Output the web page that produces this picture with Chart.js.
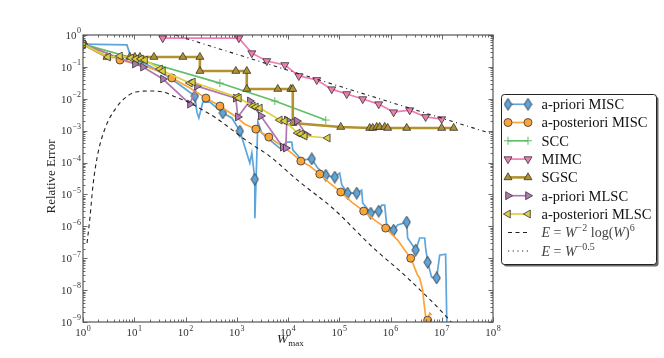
<!DOCTYPE html>
<html>
<head>
<meta charset="utf-8">
<title>Relative error vs W_max</title>
<script src="https://cdn.jsdelivr.net/npm/chart.js@4.4.1/dist/chart.umd.min.js"></script>
<style>
    html, body { margin: 0; padding: 0; background: #fff; }
    #wrap { width: 664px; height: 358px; }
</style>
</head>
<body>
<div id="wrap"><canvas id="errChart" width="664" height="358"></canvas></div>
<script>
// Values (work W_max vs relative error)

// a-priori MISC (markers only on some vertices)
const miscPrioriW = [1, 7.2, 8.6, 20, 40, 78, 152, 167, 182, 218, 300, 536, 802, 1150, 1800, 1970, 2250, 2260, 2580, 3080,
    4420, 6920, 9480, 11850, 12400, 18600, 29100, 38100, 54600, 81700, 1.02e5, 1.12e5, 1.46e5, 2.19e5, 2.74e5, 2.87e5,
    4.12e5, 5.89e5, 6.73e5, 7.71e5, 8.43e5, 1.15e6, 1.38e6, 2.07e6, 2.16e6, 3.1e6, 3.71e6, 4.64e6, 4.85e6, 5.31e6,
    6.35e6, 7.95e6, 9.1e6, 1.19e7, 1.25e7, 1.3e7];
const miscPrioriE = [0.52, 0.49, 0.2, 0.106, 0.056, 0.027, 0.0122, 0.0038, 0.0025, 0.0079, 0.0079, 0.0036, 0.0025, 9.7e-4,
    9.6e-5, 2.0e-4, 3.0e-5, 1.8e-6, 1.9e-3, 8.4e-4, 5.1e-4, 2.85e-4, 4.4e-4, 4.4e-4, 2.5e-4, 1.2e-4, 1.3e-4, 6.7e-5,
    4.0e-5, 3.5e-5, 4.7e-5, 2.0e-5, 1.1e-5, 1.1e-5, 1.37e-5, 5.4e-6, 2.6e-6, 3.0e-6, 4.6e-6, 4.6e-6, 1.1e-6, 7.6e-7,
    1.1e-6, 1.36e-6, 4.3e-7, 1.8e-7, 4.3e-7, 4.3e-7, 2.1e-7, 7.5e-8, 2.55e-8, 2.4e-8, 1.25e-7, 1.34e-7, 1.3e-9, 5.5e-10];
const miscPrioriMarks = [0, 6, 11, 13, 16, 26, 28, 29, 32, 33, 36, 37, 41, 43, 45, 49, 51];

// a-posteriori MISC
const miscPostW = [1, 2.14, 5.26, 16.2, 36.3, 54.3, 122, 250, 469, 918, 1440, 2355, 4230, 8670, 11850, 17800, 26600,
    41700, 65300, 1.07e5, 1.75e5, 3.0e5, 4.92e5, 8.05e5, 1.38e6, 1.89e6, 2.48e6, 3.39e6, 3.71e6, 4.25e6, 4.44e6,
    4.85e6, 5.31e6, 5.81e6, 6.35e6];
const miscPostE = [0.52, 0.338, 0.164, 0.106, 0.064, 0.045, 0.0217, 0.0105, 0.0059, 0.0029, 0.0016, 0.00112, 6.3e-4,
    2.85e-4, 1.98e-4, 1.11e-4, 7.8e-5, 4.35e-5, 2.27e-5, 1.19e-5, 5.75e-6, 3.0e-6, 1.57e-6, 8.8e-7, 3.7e-7, 1.8e-7,
    1.0e-7, 2.9e-8, 2.4e-8, 1.0e-8, 4.8e-9, 1.5e-9, 1.14e-9, 1.9e-9, 1.64e-9];
const miscPostMarks = [0, 2, 5, 7, 8, 11, 12, 15, 17, 19, 21, 23, 26, 32];

// SCC
const sccW = [1, 12.9, 469, 5530, 54600];
const sccE = [0.52, 0.164, 0.031, 0.0085, 0.00215];

// MIMC
const mimcW = [36, 1100, 1970, 3860, 8670, 16250, 36400, 71400, 1.4e5, 2.87e5, 5.89e5, 1.15e6, 2.37e6, 4.85e6, 9.95e6];
const mimcE = [0.80, 0.80, 0.27, 0.153, 0.115, 0.052, 0.039, 0.020, 0.0141, 0.0098, 0.0068, 0.0038, 0.0044, 0.0027, 0.0023];

// SGSC
const sgscW = [1, 2.94, 8.2, 10.3, 12.9, 24.2, 89, 191, 191, 960, 1570, 1570, 6320, 11350, 12400, 12400, 1.07e5,
    3.93e5, 4.5e5, 5.38e5, 6.15e5, 7.71e5, 8.81e5, 2.07e6, 9.95e6, 1.71e7];
const sgscE = [0.52, 0.204, 0.204, 0.204, 0.204, 0.204, 0.204, 0.204, 0.074, 0.074, 0.074, 0.0202, 0.0202, 0.0202,
    0.0202, 0.00173, 0.0013, 0.00121, 0.00121, 0.0013, 0.0013, 0.0013, 0.00121, 0.00121, 0.00121, 0.00121];

// a-priori MLSC
const mlscPrioriW = [1, 10.3, 14.8, 36.3, 122, 167, 960, 1050, 1800, 2950, 7920, 9060, 9480, 14900, 23200];
const mlscPrioriE = [0.52, 0.123, 0.099, 0.0416, 0.0068, 0.025, 0.0105, 0.0027, 0.0085, 0.0029, 3.06e-4, 2.85e-4,
    0.00215, 0.0020, 7.3e-4];

// a-posteriori MLSC
const mlscPostW = [1, 3.07, 5.26, 8.63, 10.8, 13.5, 16.2, 31.7, 36.3, 122, 139, 1005, 1100, 2060, 2355, 2820, 6920,
    8670, 15500, 17800, 21200, 59700];
const mlscPostE = [0.52, 0.204, 0.219, 0.19, 0.177, 0.177, 0.164, 0.0857, 0.0741, 0.0312, 0.0335, 0.0113, 0.0105,
    0.0059, 0.0055, 0.0051, 0.00215, 0.0020, 8.4e-4, 7.8e-4, 6.8e-4, 5.9e-4];

// reference rates
const rateLogW = [1.2, 1.37, 1.57, 1.96, 2.81, 4.4, 6.9, 10.8, 20.2, 36.3, 65, 122, 218, 392, 733, 1315, 2355, 3870,
    17000, 74700, 4.5e5, 2.07e6, 1.26e7, 1.79e7];
const rateLogE = [3.0e-7, 1.95e-6, 2.0e-5, 1.98e-4, 1.4e-3, 5.1e-3, 0.0113, 0.0163, 0.0175, 0.0163, 0.0113, 0.0074,
    0.0044, 0.0025, 0.0012, 5.9e-4, 3.06e-4, 1.85e-4, 2.44e-5, 3.7e-6, 2.2e-7, 2.55e-8, 1.42e-9, 7.4e-10];
const rateHalfW = [62, 1e8];
const rateHalfE = [1.0, 7.8e-4];

// axis decades
const xTickExps = [0, 1, 2, 3, 4, 5, 6, 7, 8];
const yTickExps = [0, -1, -2, -3, -4, -5, -6, -7, -8, -9];

const SERIF = '"Liberation Serif", "DejaVu Serif", serif';
const EDGE = '#333';

function pts(ws, es) {
    return ws.map((w, i) => ({ x: w, y: es[i] }));
}

// thin diamond marker like matplotlib 'd'
function diamondMarker(color) {
    const c = document.createElement('canvas');
    c.width = 9; c.height = 13;
    const g = c.getContext('2d');
    g.beginPath();
    g.moveTo(4.5, 0.6); g.lineTo(8.2, 6.5); g.lineTo(4.5, 12.4); g.lineTo(0.8, 6.5);
    g.closePath();
    g.fillStyle = color; g.fill();
    g.lineWidth = 0.9; g.strokeStyle = EDGE; g.stroke();
    return c;
}

function markEvery(list, r) {
    return ctx => list.includes(ctx.dataIndex) ? r : 0;
}

const datasets = [
    {
        label: 'a-priori MISC', data: pts(miscPrioriW, miscPrioriE),
        borderColor: '#5DA5DA', borderWidth: 1.7,
        pointStyle: diamondMarker('#5DA5DA'), pointRadius: markEvery(miscPrioriMarks, 5), markerR: 5,
        pointBackgroundColor: '#5DA5DA', pointBorderColor: EDGE
    },
    {
        label: 'a-posteriori MISC', data: pts(miscPostW, miscPostE),
        borderColor: '#FAA43A', borderWidth: 1.7,
        pointStyle: 'circle', pointRadius: markEvery(miscPostMarks, 4), markerR: 4,
        pointBackgroundColor: '#FAA43A', pointBorderColor: EDGE, pointBorderWidth: 0.8
    },
    {
        label: 'SCC', data: pts(sccW, sccE),
        borderColor: '#60BD68', borderWidth: 1.6,
        pointStyle: 'cross', pointRadius: 4, markerR: 4,
        pointBackgroundColor: '#60BD68', pointBorderColor: '#60BD68', pointBorderWidth: 1
    },
    {
        label: 'MIMC', data: pts(mimcW, mimcE),
        borderColor: '#F17CB0', borderWidth: 1.7,
        pointStyle: 'triangle', pointRotation: 180, pointRadius: 4.6, markerR: 4.6,
        pointBackgroundColor: '#F17CB0', pointBorderColor: EDGE, pointBorderWidth: 0.8
    },
    {
        label: 'SGSC', data: pts(sgscW, sgscE),
        borderColor: '#B2912F', borderWidth: 2.6,
        pointStyle: 'triangle', pointRadius: 4.6, markerR: 4.6,
        pointBackgroundColor: '#B2912F', pointBorderColor: EDGE, pointBorderWidth: 0.8
    },
    {
        label: 'a-priori MLSC', data: pts(mlscPrioriW, mlscPrioriE),
        borderColor: '#B276B2', borderWidth: 1.7,
        pointStyle: 'triangle', pointRotation: 90, pointRadius: 4.6, markerR: 4.6,
        pointBackgroundColor: '#B276B2', pointBorderColor: EDGE, pointBorderWidth: 0.8
    },
    {
        label: 'a-posteriori MLSC', data: pts(mlscPostW, mlscPostE),
        borderColor: '#DECF3F', borderWidth: 1.7,
        pointStyle: 'triangle', pointRotation: -90, pointRadius: 4.6, markerR: 4.6,
        pointBackgroundColor: '#DECF3F', pointBorderColor: EDGE, pointBorderWidth: 0.8
    },
    {
        label: 'rate2', data: pts(rateLogW, rateLogE),
        borderColor: '#222', borderWidth: 1.1, borderDash: [4, 3.5],
        cubicInterpolationMode: 'monotone', pointRadius: 0
    },
    {
        label: 'rate05', data: pts(rateHalfW, rateHalfE),
        borderColor: '#222', borderWidth: 1.1, borderDash: [3.5, 3.5, 1, 3.5],
        pointRadius: 0
    }
];
// later series sit on top, as in the original
datasets.forEach((d, i) => { d.order = 20 - i; d.fill = false; });

function drawPow10(ctx, exp, x, y, align) {
    const base = '10';
    const sup = exp < 0 ? '\u2212' + (-exp) : String(exp);
    ctx.font = '11px ' + SERIF;
    const wb = ctx.measureText(base).width;
    ctx.font = '8px ' + SERIF;
    const ws = ctx.measureText(sup).width;
    const total = wb + ws + 0.6;
    const x0 = align === 'right' ? x - total : x - total / 2;
    ctx.textAlign = 'left';
    ctx.textBaseline = 'alphabetic';
    ctx.font = '11px ' + SERIF;
    ctx.fillText(base, x0, y);
    ctx.font = '8px ' + SERIF;
    ctx.fillText(sup, x0 + wb + 0.6, y - 5.5);
}

// frame, inward ticks on all four sides, tick labels and axis titles
const axesPlugin = {
    id: 'mplAxes',
    afterDatasetsDraw(chart) {
        const { ctx, chartArea: a, scales } = chart;
        const xs = scales.x, ys = scales.y;
        ctx.save();
        ctx.strokeStyle = '#444';
        ctx.lineWidth = 0.8;
        ctx.beginPath();
        const tick = (px, len, vertical) => {
            if (vertical) {
                ctx.moveTo(px, a.bottom); ctx.lineTo(px, a.bottom - len);
                ctx.moveTo(px, a.top); ctx.lineTo(px, a.top + len);
            } else {
                ctx.moveTo(a.left, px); ctx.lineTo(a.left + len, px);
                ctx.moveTo(a.right, px); ctx.lineTo(a.right - len, px);
            }
        };
        xTickExps.forEach(e => {
            tick(Math.round(xs.getPixelForValue(Math.pow(10, e))) + 0.5, 4.5, true);
            if (e < 8) for (let k = 2; k <= 9; k++) tick(Math.round(xs.getPixelForValue(k * Math.pow(10, e))) + 0.5, 2.5, true);
        });
        yTickExps.forEach(e => {
            tick(Math.round(ys.getPixelForValue(Math.pow(10, e))) + 0.5, 4.5, false);
            if (e > -9) for (let k = 2; k <= 9; k++) tick(Math.round(ys.getPixelForValue(k * Math.pow(10, e - 1))) + 0.5, 2.5, false);
        });
        ctx.stroke();

        ctx.lineWidth = 1.2;
        ctx.strokeStyle = '#555';
        ctx.strokeRect(a.left, a.top, a.right - a.left, a.bottom - a.top);

        ctx.fillStyle = '#333';
        xTickExps.forEach(e => drawPow10(ctx, e, xs.getPixelForValue(Math.pow(10, e)), a.bottom + 14, 'center'));
        yTickExps.forEach(e => drawPow10(ctx, e, a.left - 2, ys.getPixelForValue(Math.pow(10, e)) + 3.8, 'right'));

        // y title
        ctx.save();
        ctx.translate(55, (a.top + a.bottom) / 2 - 2);
        ctx.rotate(-Math.PI / 2);
        ctx.font = '13px ' + SERIF;
        ctx.textAlign = 'center';
        ctx.fillStyle = '#222';
        ctx.fillText('Relative Error', 0, 0);
        ctx.restore();

        // x title: W_max
        ctx.fillStyle = '#222';
        ctx.textAlign = 'left';
        ctx.font = 'italic 13px ' + SERIF;
        const wx = (a.left + a.right) / 2 - 11;
        ctx.fillText('W', wx, 343);
        const ww = ctx.measureText('W').width;
        ctx.font = '9px ' + SERIF;
        ctx.fillText('max', wx + ww + 0.5, 346);
        ctx.restore();
    }
};

function drawRich(ctx, parts, x, y) {
    parts.forEach(p => {
        ctx.font = p.f;
        ctx.fillText(p.t, x, y + (p.dy || 0));
        x += ctx.measureText(p.t).width;
    });
}

// matplotlib-style legend: two markers on a short line, fancy box with shadow
const legendPlugin = {
    id: 'mplLegend',
    afterDraw(chart) {
        const ctx = chart.ctx;
        const bx = 501.5, by = 94.5, bw = 155, bh = 170, r = 3;
        const rr = (x, y) => {
            ctx.beginPath();
            ctx.moveTo(x + r, y);
            ctx.arcTo(x + bw, y, x + bw, y + bh, r);
            ctx.arcTo(x + bw, y + bh, x, y + bh, r);
            ctx.arcTo(x, y + bh, x, y, r);
            ctx.arcTo(x, y, x + bw, y, r);
            ctx.closePath();
        };
        ctx.save();
        ctx.fillStyle = '#6a6a6a';
        rr(bx + 2, by + 2); ctx.fill();
        ctx.fillStyle = '#fff';
        rr(bx, by); ctx.fill();
        ctx.strokeStyle = '#222'; ctx.lineWidth = 1;
        ctx.stroke();

        const rows = [104.3, 122.5, 140.8, 159.1, 177.4, 195.7, 214, 232.5, 251];
        const x0 = 508, x1 = 528, tx = 541.5;
        const ds = chart.config.data.datasets;
        ctx.textBaseline = 'alphabetic';
        ctx.textAlign = 'left';
        for (let i = 0; i < 7; i++) {
            const d = ds[i], y = rows[i];
            ctx.beginPath();
            ctx.strokeStyle = d.borderColor;
            ctx.lineWidth = d.borderWidth;
            ctx.moveTo(x0, y); ctx.lineTo(x1, y); ctx.stroke();
            [x0, x1].forEach(mx => {
                ctx.fillStyle = d.pointBackgroundColor;
                ctx.strokeStyle = d.pointBorderColor;
                ctx.lineWidth = d.pointBorderWidth || 0.8;
                Chart.helpers.drawPoint(ctx, {
                    pointStyle: d.pointStyle, radius: d.markerR,
                    rotation: d.pointRotation || 0, borderWidth: d.pointBorderWidth || 0.8
                }, mx, y);
            });
            ctx.fillStyle = '#111';
            ctx.font = '14.5px ' + SERIF;
            ctx.fillText(d.label, tx, y + 4.8);
        }
        // reference-rate entries
        [[7, [4, 3.5]], [8, [1.2, 3.5]]].forEach(([i, dash]) => {
            const y = rows[i];
            ctx.beginPath();
            ctx.setLineDash(dash);
            ctx.strokeStyle = '#222'; ctx.lineWidth = 1.1;
            ctx.moveTo(x0, y); ctx.lineTo(x1, y); ctx.stroke();
            ctx.setLineDash([]);
        });
        const it = 'italic 14px ' + SERIF, up = '14px ' + SERIF, sm = '10px ' + SERIF;
        ctx.fillStyle = '#444';
        drawRich(ctx, [
            { t: 'E', f: it }, { t: ' = ', f: up }, { t: 'W', f: it }, { t: '\u22122', f: sm, dy: -6 },
            { t: ' log(', f: up }, { t: 'W', f: it }, { t: ')', f: up }, { t: '6', f: sm, dy: -6 }
        ], tx, rows[7] + 4.8);
        drawRich(ctx, [
            { t: 'E', f: it }, { t: ' = ', f: up }, { t: 'W', f: it }, { t: '\u22120.5', f: sm, dy: -6 }
        ], tx, rows[8] + 4.8);
        ctx.restore();
    }
};

new Chart(document.getElementById('errChart'), {
    type: 'line',
    data: { datasets },
    options: {
        responsive: false,
        animation: false,
        layout: { padding: { left: 83, top: 35, right: 171, bottom: 36 } },
        plugins: {
            legend: { display: false },
            tooltip: { enabled: false }
        },
        elements: { line: { tension: 0 } },
        scales: {
            x: { type: 'logarithmic', min: 1, max: 1e8, display: false },
            y: { type: 'logarithmic', min: 1e-9, max: 1, display: false }
        }
    },
    plugins: [axesPlugin, legendPlugin]
});
</script>
</body>
</html>
